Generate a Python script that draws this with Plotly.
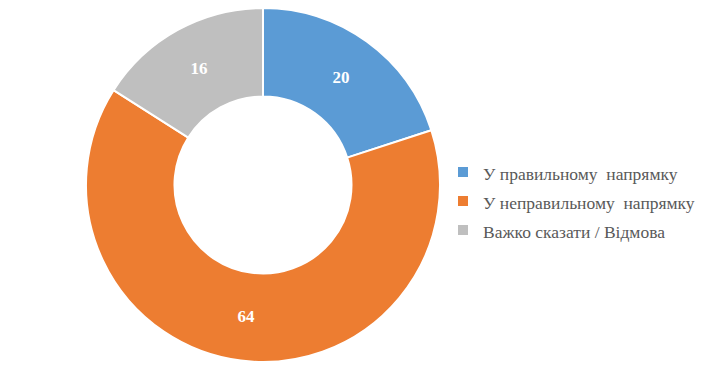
import plotly.graph_objects as go

labels = ["У правильному  напрямку", "У неправильному  напрямку", "Важко сказати / Відмова"]
values = [20, 64, 16]
colors = ["#5B9BD5", "#ED7D31", "#BFBFBF"]

legend_labels = ["<span style='font-size:17.5px'>" + t + "</span>" for t in labels]

fig = go.Figure(go.Pie(
    labels=legend_labels,
    values=values,
    hole=0.5,
    sort=False,
    direction="clockwise",
    rotation=0,
    marker=dict(colors=colors, line=dict(color="white", width=2)),
    textinfo="value",
    textposition="inside",
    insidetextorientation="horizontal",
    textfont=dict(family="Liberation Serif, Times New Roman, serif", size=17, color="white", weight="bold"),
    domain=dict(x=[86/720, 440/720], y=[8/370, 362/370]),
))

fig.update_layout(
    width=720, height=370,
    margin=dict(l=0, r=0, t=0, b=0),
    paper_bgcolor="white",
    plot_bgcolor="white",
    showlegend=True,
    legend=dict(
        x=443/720, y=(370-201)/370, xanchor="left", yanchor="middle",
        font=dict(family="Liberation Serif, Times New Roman, serif", size=20, color="#595959"),
        itemwidth=30,
    ),
)

fig.write_html("out.html")
